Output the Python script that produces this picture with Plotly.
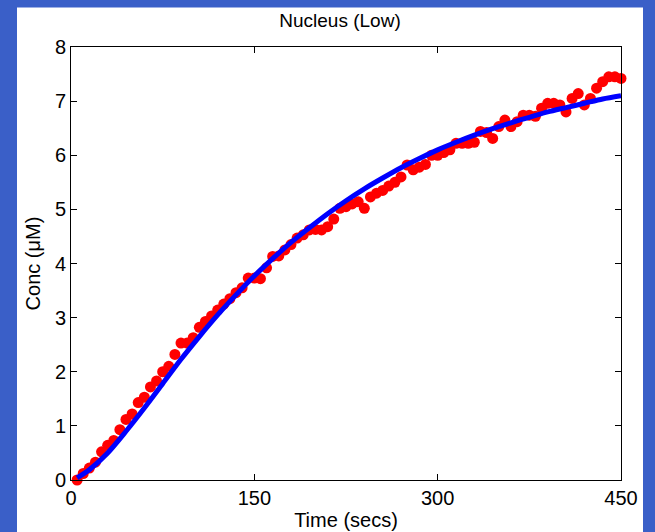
import plotly.graph_objects as go

# Measured data (red dots)
time_s = [5, 10, 15, 20, 25, 30, 35, 40, 45, 50, 55, 60, 65, 70, 75, 80, 85, 90, 95, 100,
          105, 110, 115, 120, 125, 130, 135, 140, 145, 150, 155, 160, 165, 170, 175, 180, 185, 190, 195, 200,
          205, 210, 215, 220, 225, 230, 235, 240, 245, 250, 255, 260, 265, 270, 275, 280, 285, 290, 295, 300,
          305, 310, 315, 320, 325, 330, 335, 340, 345, 350, 355, 360, 365, 370, 375, 380, 385, 390, 395, 400,
          405, 410, 415, 420, 425, 430, 435, 440, 445, 450]
conc_obs = [0.0, 0.12, 0.22, 0.33, 0.52, 0.64, 0.73, 0.93, 1.12, 1.22, 1.43, 1.53, 1.72, 1.83, 2.0, 2.1, 2.32, 2.53, 2.53, 2.63,
            2.82, 2.93, 3.03, 3.14, 3.25, 3.35, 3.46, 3.55, 3.73, 3.73, 3.72, 3.92, 4.13, 4.14, 4.25, 4.35, 4.47, 4.53, 4.62, 4.63,
            4.62, 4.68, 4.82, 5.02, 5.05, 5.1, 5.14, 5.02, 5.23, 5.3, 5.35, 5.43, 5.5, 5.6, 5.82, 5.73, 5.78, 5.83, 6.0, 6.0,
            6.05, 6.1, 6.22, 6.22, 6.22, 6.24, 6.44, 6.42, 6.31, 6.53, 6.65, 6.53, 6.62, 6.74, 6.74, 6.72, 6.87, 6.96, 6.96, 6.93,
            6.80, 7.05, 7.14, 6.93, 7.05, 7.24, 7.36, 7.45, 7.45, 7.42]

# Model fit (blue curve)
fit_time = [5, 15, 30, 45, 60, 75, 90, 105, 120, 135, 150, 165, 180, 195, 210, 225, 240, 255, 270, 285,
            300, 315, 330, 345, 360, 375, 390, 405, 420, 435, 450]
fit_conc = [0.04, 0.19, 0.5, 0.9, 1.33, 1.78, 2.23, 2.65, 3.05, 3.42, 3.77, 4.09, 4.39, 4.66, 4.92, 5.16, 5.38, 5.58, 5.77, 5.94,
            6.1, 6.24, 6.37, 6.49, 6.6, 6.7, 6.8, 6.88, 6.96, 7.04, 7.1]

x_ticks = [0, 150, 300, 450]
y_ticks = [0, 1, 2, 3, 4, 5, 6, 7, 8]

FONT = "Liberation Sans, Arial, sans-serif"
BLUE_BG = "#3a5fc8"

fig = go.Figure()
fig.add_trace(go.Scatter(x=time_s, y=conc_obs, mode="markers",
                         marker=dict(color="#ff0000", size=11, line=dict(width=0)),
                         cliponaxis=False, showlegend=False))
fig.add_trace(go.Scatter(x=fit_time, y=fit_conc, mode="lines",
                         line=dict(color="#0000ff", width=5, shape="spline", smoothing=0.8),
                         showlegend=False))

L, R, T, B = 71, 34, 47, 52
W, H = 655, 532
pw, ph = W - L - R, H - T - B

fig.add_shape(type="rect", xref="paper", yref="paper",
              x0=(17 - L) / pw, x1=(643 - L) / pw,
              y0=-(B + 5) / ph, y1=(H - B - 7.5) / ph,
              fillcolor="white", line=dict(width=0), layer="below")

axis_common = dict(showline=True, linecolor="black", linewidth=1, mirror="ticks",
                   ticks="inside", ticklen=6, tickcolor="black", showgrid=False, zeroline=False,
                   automargin=False,
                   tickfont=dict(family=FONT, size=20, color="black"))

fig.update_layout(
    width=W, height=H,
    margin=dict(l=L, r=R, t=T, b=B, pad=0),
    paper_bgcolor=BLUE_BG, plot_bgcolor="white",
    title=dict(text="Nucleus (Low)", x=340 / W, xanchor="center", y=1 - 20 / H, yanchor="middle",
               automargin=False,
               font=dict(family=FONT, size=19, color="black")),
    xaxis=dict(range=[0, 450], tickvals=x_ticks, ticktext=[str(v) for v in x_ticks],
               title=dict(text="Time (secs)", standoff=4, font=dict(family=FONT, size=20, color="black")),
               **axis_common),
    yaxis=dict(range=[0, 8], tickvals=y_ticks, ticktext=[str(v) for v in y_ticks],
               title=dict(text="Conc (μM)", standoff=8, font=dict(family=FONT, size=20, color="black")),
               **axis_common),
)

fig.write_html("out.html", config={"displayModeBar": False},
               post_script="document.body.style.margin='0';document.body.style.overflow='hidden';")
